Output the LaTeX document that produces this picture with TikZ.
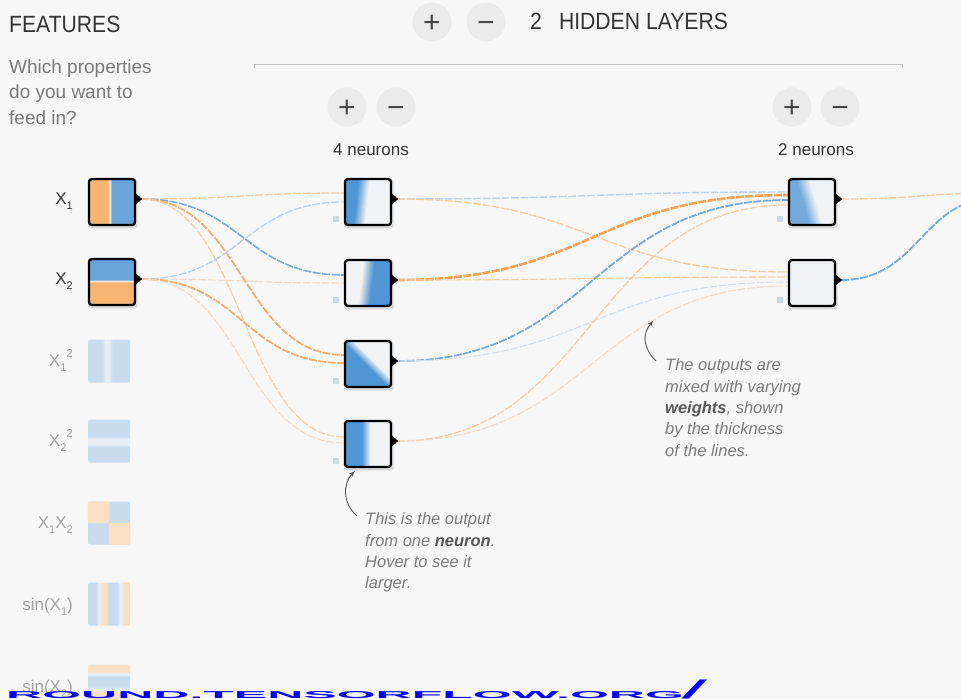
\documentclass[tikz,border=0pt]{standalone}
\usepackage{fontspec}
\setmainfont{Liberation Sans}
\usepackage{graphicx}
\usetikzlibrary{calc,arrows.meta}

\definecolor{bgc}{HTML}{F7F7F7}
\definecolor{cTtl}{HTML}{333333}
\definecolor{cDsc}{HTML}{7A7A7A}
\definecolor{cItg}{HTML}{7C7C7C}
\definecolor{cItb}{HTML}{585858}
\definecolor{btnf}{HTML}{EBEBEB}
\definecolor{btnt}{HTML}{474747}
\definecolor{cBrk}{HTML}{C4C4C4}
\definecolor{inor}{HTML}{F8B473}
\definecolor{inmid}{HTML}{EDE6DD}
\definecolor{inbl}{HTML}{6AA4D9}
\definecolor{nbd}{HTML}{5196D4}
\definecolor{nw}{HTML}{F1F2F3}
\definecolor{nwb}{HTML}{EEF0F2}
\definecolor{fb}{HTML}{C9DCEF}
\definecolor{fo}{HTML}{FCE0C4}
\definecolor{fw}{HTML}{E6EEF6}
\definecolor{cBias}{HTML}{CFD8E2}
\definecolor{orS}{HTML}{F3A457}
\definecolor{orM}{HTML}{F4B071}
\definecolor{orL}{HTML}{F5CFA8}
\definecolor{orV}{HTML}{F0DDCB}
\definecolor{blM}{HTML}{7BAAD8}
\definecolor{blL}{HTML}{BCD4EB}
\definecolor{blV}{HTML}{D6E1EC}
\definecolor{cUrl}{HTML}{0000FF}
\definecolor{cAnn}{HTML}{555555}
\definecolor{cFlab}{HTML}{333333}
\definecolor{cFlabd}{HTML}{A3A3A3}

\pgfdeclarehorizontalshading{shX1}{100bp}{color(0bp)=(inor); color(45bp)=(inor); color(47.5bp)=(inmid); color(50bp)=(inbl); color(100bp)=(inbl)}
\pgfdeclareverticalshading{shX2}{100bp}{color(0bp)=(inor); color(49bp)=(inor); color(51bp)=(inmid); color(53bp)=(inbl); color(100bp)=(inbl)}
\pgfdeclarehorizontalshading{shFa}{100bp}{color(0bp)=(fb); color(42bp)=(fb); color(46bp)=(fw); color(50bp)=(fw); color(54bp)=(fb); color(100bp)=(fb)}
\pgfdeclareverticalshading{shFb}{100bp}{color(0bp)=(fb); color(43bp)=(fb); color(46bp)=(fw); color(52bp)=(fw); color(55bp)=(fb); color(100bp)=(fb)}
\pgfdeclarehorizontalshading{shFc}{100bp}{color(0bp)=(fb); color(35bp)=(fb); color(37bp)=(fw); color(39bp)=(fw); color(41bp)=(fo); color(47bp)=(fo); color(49bp)=(fb); color(60bp)=(fb); color(62bp)=(fw); color(65bp)=(fw); color(67bp)=(fo); color(100bp)=(fo)}
\pgfdeclareverticalshading{shFd}{100bp}{color(0bp)=(fo); color(43bp)=(fo); color(45bp)=(fw); color(47bp)=(fw); color(49bp)=(fb); color(61bp)=(fb); color(63bp)=(fw); color(65bp)=(fw); color(67bp)=(fo); color(100bp)=(fo)}

\pgfdeclarelayer{bg}
\pgfdeclarelayer{lnk}
\pgfsetlayers{bg,lnk,main}

\newcommand\fsub[1]{\raisebox{-5pt}{\fontsize{11}{11}\selectfont #1}}
\newcommand\fsup[1]{\raisebox{9pt}{\fontsize{11.5}{11.5}\selectfont #1}}
\newcommand\lnk[3]{\draw[lk,#1] let \p1=(#2), \p2=(#3), \n1={0.5*(\x1+\x2)} in (\p1) .. controls ({\n1*1pt},\y1) and ({\n1*1pt},\y2) .. (\p2);}
\newcommand\bandL[3]{\fill[#3] ($(path picture bounding box.north west)+({(#1)-((#2)-(#1))},-46)$) -- ($(path picture bounding box.south west)+({(#2)+((#2)-(#1))},46)$) -- ($(path picture bounding box.south west)+(-80,46)$) -- ($(path picture bounding box.north west)+(-80,-46)$) -- cycle;}
\newcommand\bandR[3]{\fill[#3] ($(path picture bounding box.north west)+({(#1)-((#2)-(#1))},-46)$) -- ($(path picture bounding box.south west)+({(#2)+((#2)-(#1))},46)$) -- ($(path picture bounding box.south east)+(80,46)$) -- ($(path picture bounding box.north east)+(80,-46)$) -- cycle;}
\newcommand\gradL[4]{\foreach \i [evaluate=\i as \pcv using {int(min(100,(\i+1)*#4))}] in {0,...,12}{\bandL{(#1)+(#3)-\i}{(#2)+(#3)-\i}{nbd!\pcv!nw}}}
\newcommand\gradR[4]{\foreach \i [evaluate=\i as \pcv using {int(min(100,(\i+1)*#4))}] in {0,...,12}{\bandR{(#1)-(#3)+\i}{(#2)-(#3)+\i}{nbd!\pcv!nw}}}

\begin{document}
\begin{tikzpicture}[x=1pt,y=-1pt,
  ttlsty/.style={text=cTtl, font=\fontsize{23.5}{28}\selectfont, inner sep=0pt},
  btn/.style={circle, fill=btnf, minimum size=39pt, inner sep=0pt, text=btnt, font=\fontsize{30}{30}\selectfont, text height=21pt, text depth=0pt},
  nlab/.style={text=cTtl, font=\fontsize{17}{20}\selectfont, inner sep=0pt},
  desc/.style={text=cDsc, font=\fontsize{19}{25.7}\selectfont, align=left, inner sep=0pt},
  itx/.style={text=cItg, font=\fontsize{16.5}{21.4}\selectfont\itshape, align=left, inner sep=0pt},
  neuron/.style={draw=black, line width=2.4pt, rounded corners=3pt, minimum size=46pt, inner sep=0pt},
  fbox/.style={rounded corners=2pt, minimum width=42pt, minimum height=43pt, inner sep=0pt},
  flab/.style={text=cFlab, font=\fontsize{17}{20}\selectfont, inner sep=0pt, anchor=base east},
  flabd/.style={flab, text=cFlabd},
  lk/.style={dash pattern=on 8pt off 1.5pt},
  annarrow/.style={draw=cAnn, line width=0.9pt, -{Stealth[length=6pt,width=4.5pt]}},
  urlsty/.style={text=cUrl, font=\fontsize{50}{60}\selectfont\bfseries, inner sep=0pt}
]
\useasboundingbox (0,0) rectangle (961,699);
\begin{pgfonlayer}{bg}
  \fill[bgc] (0,0) rectangle (961,699);
\end{pgfonlayer}

% headers
\node[ttlsty, anchor=base west] (feat) at (9,32) {\scalebox{0.9}[1]{FEATURES}};
\node[ttlsty, anchor=base west] (hid) at (530,29) {\scalebox{0.9}[1]{2\hspace{19pt}HIDDEN LAYERS}};
\node[desc, anchor=north west] (ques) at (9,59.3) {Which properties\\do you want to\\feed in?};
\draw[cBrk, line width=1pt] (254,68) -- (254,64) -- (902,64) -- (902,68);

% buttons
\node[btn] (ap) at (432,22) {+};
\node[btn] (am) at (486,22) {−};
\node[btn] (l1p) at (347,107) {+};
\node[btn] (l1m) at (396,107) {−};
\node[btn] (l2p) at (792,107) {+};
\node[btn] (l2m) at (840,107) {−};
\node[nlab, anchor=base] (c1) at (371,155) {4 neurons};
\node[nlab, anchor=base] (c2) at (816,155) {2 neurons};

% input features
\node[neuron, shade, shading=shX1] (x1) at (112,202) {};
\node[neuron, shade, shading=shX2] (x2) at (112,282) {};
\node[fbox, shade, shading=shFa] (f3) at (109,361) {};
\node[fbox, shade, shading=shFb] (f4) at (109,441) {};
\node[fbox, fill=fb] (f5) at (109,523) {};
\fill[fo, rounded corners=2pt] (f5.north west) rectangle (f5.center);
\fill[fo, rounded corners=2pt] (f5.center) rectangle (f5.south east);
\node[fbox, shade, shading=shFc] (f6) at (109,604) {};
\node[fbox, shade, shading=shFd] (f7) at (109,686) {};

\node[flab] (lx1) at (73,204) {X\fsub{1}};
\node[flab] (lx2) at (73,284) {X\fsub{2}};
\node[flabd] (lx3) at (73,366) {X\fsub{1}\fsup{2}};
\node[flabd] (lx4) at (73,446) {X\fsub{2}\fsup{2}};
\node[flabd] (lx5) at (73,528) {X\fsub{1}X\fsub{2}};
\node[flabd] (lx6) at (73,610) {sin(X\fsub{1})};
\node[flabd] (lx7) at (73,692) {sin(X\fsub{2})};

% hidden neurons
\node[neuron, fill=nw, path picture={\gradL{17.5}{12.5}{7}{9}}] (n11) at (368,202) {};
\node[neuron, fill=nw, path picture={\gradR{26.5}{21}{7}{9}}] (n12) at (368,283) {};
\node[neuron, fill=nw, path picture={\gradL{0}{46}{8}{9}}] (n13) at (368,364) {};
\node[neuron, fill=nw, path picture={\gradL{20}{20}{5}{12}}] (n14) at (368,444) {};
\node[neuron, fill=nw, path picture={\gradL{11}{24}{9}{6}}] (n21) at (812,202) {};
\node[neuron, fill=nwb] (n22) at (812,283) {};

\foreach \n in {x1,x2,n11,n12,n13,n14,n21,n22}{
  \fill[black] ($(\n.east)+(-1,-9)$) -- ($(\n.east)+(6,-3)$) -- ($(\n.east)+(-1,3)$) -- cycle;
  \coordinate (\n o) at ($(\n.east)+(5,-3)$);
  \begin{pgfonlayer}{bg}
    \fill[black, opacity=0.10, rounded corners=3pt] ($(\n.south west)+(0.5,2.5)$) rectangle ($(\n.north east)+(1.5,1)$);
  \end{pgfonlayer}
}
\foreach \n in {n11,n12,n13,n14,n21,n22}{
  \fill[cBias] ($(\n.south west)+(-11,-4)$) rectangle ($(\n.south west)+(-5,-10)$);
}

\coordinate (out) at (1000,194);

\begin{pgfonlayer}{lnk}
\begin{scope}
\clip (0,0) rectangle (961,699);
\lnk{orL, line width=1.3pt}{x1o}{$(n11.west)+(0,-9)$}
\lnk{blM, line width=1.6pt}{x1o}{$(n12.west)+(0,-8)$}
\lnk{orM, line width=1.8pt}{x1o}{$(n13.west)+(0,-9)$}
\lnk{orL, line width=1.2pt}{x1o}{$(n14.west)+(0,-7)$}
\lnk{blL, line width=1.3pt}{x2o}{$(n11.west)+(0,0)$}
\lnk{orV, line width=1.2pt}{x2o}{$(n12.west)+(0,0)$}
\lnk{orM, line width=1.8pt}{x2o}{$(n13.west)+(0,-1)$}
\lnk{orV, line width=1.1pt}{x2o}{$(n14.west)+(0,-1)$}
\lnk{blL, line width=1.4pt}{n11o}{$(n21.west)+(0,-10)$}
\lnk{orL, line width=1.3pt}{n11o}{$(n22.west)+(0,-11)$}
\lnk{orS, line width=2.6pt}{n12o}{$(n21.west)+(0,-7)$}
\lnk{orL, line width=1.1pt}{n12o}{$(n22.west)+(0,-6)$}
\lnk{blM, line width=1.8pt}{n13o}{$(n21.west)+(0,-2)$}
\lnk{blV, line width=1.1pt}{n13o}{$(n22.west)+(0,-1)$}
\lnk{orL, line width=1.2pt}{n14o}{$(n21.west)+(0,3)$}
\lnk{orV, line width=1.1pt}{n14o}{$(n22.west)+(0,3)$}
\lnk{orL, line width=1.3pt}{n21o}{$(out)+(0,-1)$}
\lnk{blM, line width=1.8pt}{n22o}{$(out)+(0,3)$}
\end{scope}
\end{pgfonlayer}

% annotations
\node[itx, anchor=north west] (p1) at (365,512.5) {This is the output\\from one {\color{cItb}\bfseries neuron}.\\Hover to see it\\larger.};
\node[itx, anchor=north west] (p2) at (665,358.5) {The outputs are\\mixed with varying\\{\color{cItb}\bfseries weights}, shown\\by the thickness\\of the lines.};
\coordinate (t1) at (357,516);
\coordinate (a1) at ($(n14.south west)+(11,3)$);
\draw[annarrow] (t1) .. controls (342,503) and (343,483) .. (a1);
\coordinate (t2) at (656,361);
\coordinate (a2) at (653,321);
\draw[annarrow] (t2) .. controls (643,348) and (642,334) .. (a2);

% url strip at the lower edge (only the tops of the letters show in the reference)
\node[urlsty, anchor=base west] (url) at (6,698.6) {\scalebox{1}[0.2]{ROUND.TENSORFLOW.ORG}\scalebox{1}[0.4]{\fontsize{64}{64}\selectfont\itshape /}};
\end{tikzpicture}
\end{document}
